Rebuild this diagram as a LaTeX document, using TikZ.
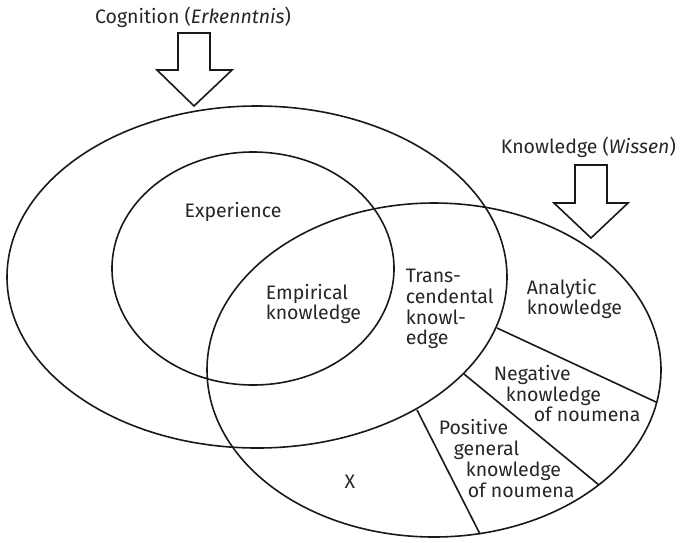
\documentclass[tikz,border=0pt]{standalone}
\usepackage{fontspec}
\setmainfont{Fira Sans}
\begin{document}
\begin{tikzpicture}[x=1pt,y=-1pt,line width=1.6pt,
  lbl/.style={font=\fontsize{19.5}{20.8}\selectfont,inner sep=0pt,align=left,text=black!85},
  outl/.style={draw=black!90,line join=miter}]
\useasboundingbox (0,0) rectangle (682,542);
% ellipses
\draw[outl] (257,277) ellipse [x radius=250, y radius=171];
\draw[outl] (253,268.5) ellipse [x radius=141, y radius=116.5];
\draw[outl] (434,370) ellipse [x radius=227, y radius=167];
% divider end points
\coordinate (a1) at (497,328); \coordinate (b1) at (656,402);
\coordinate (a2) at (464,374); \coordinate (b2) at (599,485);
\coordinate (a3) at (417,410); \coordinate (b3) at (480,534);
\draw[outl] (a1) -- (b1);
\draw[outl] (a2) -- (b2);
\draw[outl] (a3) -- (b3);
% arrows
\draw[outl] (178,33) -- (210,33) -- (210,70) -- (232,70) -- (194,106) -- (157,70) -- (178,70) -- cycle;
\draw[outl] (575,165) -- (607,165) -- (607,203) -- (628,203) -- (591,238) -- (554,203) -- (575,203) -- cycle;
% labels
\node[lbl] (cog) at (193,17) {Cognition (\textit{Erkenntnis})};
\node[lbl,anchor=west] (wis) at (500,147) {Knowledge (\textit{Wissen})};
\node[lbl] (exp) at (233,212) {Experience};
\node[lbl,anchor=west] (emp) at (265,304) {Empirical\\knowledge};
\node[lbl,anchor=west] (tra) at (405,309) {Trans-\\cendental\\knowl-\\edge};
\node[lbl,anchor=west] (ana) at (526,299) {Analytic\\knowledge};
\node[lbl,anchor=west] (neg) at (493,393.5) {Negative\\\hspace*{12pt}knowledge\\\hspace*{40pt}of noumena};
\node[lbl,anchor=west] (pos) at (438,458.5) {Positive\\\hspace*{15pt}general\\\hspace*{27pt}knowledge\\\hspace*{29pt}of noumena};
\node[lbl] (x) at (350,482) {X};
\end{tikzpicture}
\end{document}
